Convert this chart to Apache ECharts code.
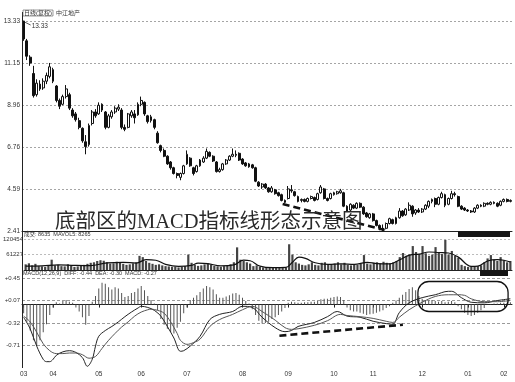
<!DOCTYPE html>
<html><head><meta charset="utf-8">
<script src="https://cdn.jsdelivr.net/npm/echarts@6/dist/echarts.min.js"></script>
<style>html,body{margin:0;padding:0;background:#fff}#c{width:515px;height:382px}</style>
</head><body><div id="c"></div>
<script>
// ---- tick labels ----
const monthLabels = ['03','04','05','06','07','08','09','10','11','12','01','02'];
const monthStart  = [0, 9, 23, 36, 50, 67, 81, 95, 107, 122, 136, 147];
const priceTicks = ['2.41','4.59','6.76','8.96','11.15','13.33'];
const volTicks = ['', '61227', '120454'];
const macdTicks = ['', '-0.71', '-0.32', '+0.07', '+0.45'];

// ---- daily candles [open, close, low, high] ----
const candles = [
[13.33,12.40,12.30,13.33],[12.30,11.50,11.30,12.40],[11.45,11.15,11.00,11.55],[10.60,9.45,9.35,11.00],[9.50,10.10,9.40,10.30],
[10.05,9.80,9.70,10.25],[9.85,10.20,9.75,10.35],[10.20,10.50,10.05,10.65],[10.45,10.95,10.35,11.15],[10.80,10.20,10.10,10.90],
[9.95,9.20,9.10,10.00],[9.20,8.90,8.75,9.30],[9.00,9.40,8.95,9.50],[9.40,9.80,9.30,10.00],[9.50,8.80,8.70,9.60],
[8.70,8.40,8.30,8.80],[8.50,8.20,8.10,8.60],[8.15,7.80,7.70,8.30],[7.75,7.10,7.00,7.80],[7.05,6.80,6.40,7.40],
[6.90,7.90,6.80,8.00],[8.00,8.60,7.90,8.70],[8.60,8.40,8.30,8.75],[8.50,8.95,8.45,9.10],[9.00,8.70,8.60,9.05],
[8.60,7.80,7.70,8.65],[7.80,8.40,7.75,8.50],[8.35,8.60,8.25,8.70],[8.60,8.80,8.50,8.90],[8.75,8.85,8.65,9.00],
[8.70,7.80,7.70,8.80],[7.80,7.70,7.60,7.95],[7.80,8.50,7.75,8.55],[8.40,8.60,8.30,8.70],[8.50,8.30,8.00,8.70],
[8.45,9.00,8.40,9.10],[9.00,9.20,8.90,9.40],[9.10,8.50,8.40,9.15],[8.40,8.10,8.00,8.45],[8.15,8.35,8.05,8.45],
[8.20,7.80,7.70,8.25],[7.50,7.00,6.95,7.60],[6.85,6.60,6.50,6.90],[6.60,6.30,6.25,6.70],[6.30,5.90,5.85,6.35],
[6.00,5.70,5.60,6.05],[5.70,5.40,5.35,5.75],[5.40,5.30,5.15,5.45],[5.20,5.40,5.05,5.45],[5.40,5.80,5.35,5.85],
[5.90,6.40,5.85,6.60],[6.20,5.80,5.75,6.25],[5.70,5.40,5.30,5.75],[5.50,5.80,5.45,5.85],[5.80,6.10,5.75,6.15],
[6.00,6.20,5.95,6.30],[6.20,6.55,6.15,6.70],[6.50,6.30,6.25,6.55],[6.30,6.05,6.00,6.35],[6.00,5.50,5.45,6.05],
[5.50,5.60,5.45,5.70],[5.60,5.90,5.55,5.95],[5.90,6.10,5.85,6.15],[6.10,6.30,6.05,6.35],[6.30,6.40,6.25,6.70],
[6.40,6.35,6.25,6.60],[6.45,6.10,6.05,6.50],[6.15,5.90,5.85,6.20],[5.95,5.80,5.75,6.00],[5.90,5.75,5.70,5.95],
[5.85,5.70,5.65,5.90],[5.70,5.00,4.95,5.75],[4.95,4.75,4.70,5.00],[4.70,4.85,4.60,4.90],[4.85,4.65,4.60,4.90],
[4.65,4.45,4.40,4.70],[4.45,4.65,4.40,4.75],[4.55,4.35,4.30,4.60],[4.40,4.25,4.20,4.45],[4.30,4.00,3.95,4.35],
[4.00,3.90,3.85,4.05],[4.10,4.60,4.05,4.75],[4.55,4.50,4.40,4.80],[4.45,4.25,4.20,4.50],[4.20,3.95,3.90,4.25],
[4.00,4.05,3.90,4.10],[4.05,3.95,3.90,4.10],[3.95,4.10,3.90,4.15],[4.10,4.20,4.05,4.25],[4.15,4.00,3.95,4.20],
[4.05,4.35,4.00,4.40],[4.40,4.70,4.35,4.80],[4.60,4.10,4.05,4.65],[4.10,4.00,3.95,4.15],[4.10,4.35,4.05,4.40],
[4.30,4.40,4.25,4.45],[4.35,4.45,4.30,4.50],[4.40,4.50,4.35,4.60],[4.40,3.70,3.65,4.45],[3.70,3.45,3.40,3.75],
[3.50,3.80,3.45,3.85],[3.75,3.60,3.55,3.80],[3.60,3.85,3.55,3.90],[3.85,3.65,3.60,3.90],[3.65,3.30,3.25,3.70],
[3.35,3.15,3.10,3.40],[3.10,3.30,3.05,3.35],[3.30,2.95,2.90,3.35],[2.95,2.70,2.65,3.00],[2.70,2.55,2.45,2.75],
[2.55,2.50,2.41,2.75],[2.55,2.80,2.50,2.85],[2.80,3.05,2.75,3.10],[3.00,2.80,2.75,3.05],[2.80,3.10,2.75,3.15],
[3.10,3.45,3.05,3.60],[3.45,3.20,3.15,3.50],[3.25,3.55,3.20,3.60],[3.50,3.75,3.45,3.90],[3.70,3.30,3.15,3.75],
[3.35,3.50,3.25,3.55],[3.50,3.40,3.35,3.60],[3.40,3.55,3.35,3.60],[3.55,3.75,3.50,3.80],[3.70,3.95,3.60,4.00],
[3.95,4.05,3.85,4.10],[4.10,3.80,3.65,4.15],[3.80,4.15,3.75,4.20],[4.15,4.35,4.10,4.45],[4.30,3.75,3.65,4.35],
[3.80,4.10,3.75,4.15],[4.10,4.35,4.05,4.50],[4.35,4.30,4.20,4.45],[4.20,3.70,3.65,4.25],[3.70,3.55,3.50,3.75],
[3.60,3.50,3.45,3.65],[3.50,3.45,3.40,3.55],[3.45,3.40,3.35,3.50],[3.40,3.60,3.35,3.65],[3.60,3.75,3.55,3.80],
[3.75,3.70,3.65,3.80],[3.70,3.85,3.65,3.90],[3.85,3.80,3.75,3.90],[3.80,3.90,3.75,3.95],[3.90,3.85,3.80,3.95],
[3.85,3.70,3.65,3.90],[3.75,3.95,3.70,4.00],[3.95,4.05,3.90,4.10],[4.05,3.95,3.90,4.10],[3.95,4.00,3.90,4.05]
];

// ---- volume (lots) ----
const volumes = [
22000,26000,18000,24000,15000,14000,12000,16000,40000,
18000,20000,15000,14000,22000,16000,12000,14000,18000,20000,24000,
28000,30000,35000,38000,36000,30000,25000,26000,32000,28000,24000,20000,22000,26000,30000,
55000,50000,35000,28000,24000,20000,
22000,18000,15000,14000,12000,13000,10000,12000,15000,
60000,
28000,20000,16000,18000,22000,25000,20000,16000,14000,12000,15000,18000,22000,
30000,88000,40000,35000,30000,25000,
15000,18000,12000,10000,8000,9000,10000,8000,9000,11000,10000,
100000,60000,
30000,25000,20000,18000,22000,30000,20000,18000,28000,30000,22000,20000,25000,30000,22000,28000,20000,18000,22000,20000,24000,
58000,
25000,22000,28000,30000,25000,32000,28000,26000,30000,35000,
50000,66000,55000,60000,93000,70000,62000,93000,65000,55000,60000,89000,70000,62000,117000,60000,74000,55000,48000,
20000,15000,12000,14000,12000,15000,18000,
30000,45000,58000,40000,35000,50000,38000,30000,35000
];
// MAVOL5 curve read at sample days [dayIndex, value]
const volMA = [[0,15000],[5,16000],[10,20000],[15,18000],[20,17000],[25,28000],[30,30000],[34,27000],[37,40000],[40,38000],
[43,22000],[47,14000],[51,18000],[53,27000],[56,25000],[60,16000],[64,20000],[67,38000],[69,36000],[72,15000],[76,9000],
[80,10000],[82,30000],[84,50000],[86,45000],[89,28000],[93,22000],[97,24000],[101,22000],[105,30000],[108,25000],[112,24000],
[115,40000],[118,58000],[121,62000],[124,70000],[127,68000],[130,66000],[133,50000],[137,14000],[139,15000],[142,35000],
[145,40000],[147,38000],[149,31000]];

// ---- MACD ----
const macdHist = [
-0.15,-0.30,-0.45,-0.62,-0.72,-0.62,-0.48,-0.34,-0.18,-0.05,
0.04,0.02,0.06,0.08,0.05,0.03,-0.05,-0.12,-0.22,-0.35,-0.20,
0.05,0.15,0.28,0.38,0.36,0.30,0.26,0.30,0.28,0.20,0.13,0.15,0.20,0.22,0.28,0.32,0.25,0.15,0.08,0.02,
-0.10,-0.25,-0.35,-0.42,-0.48,-0.50,-0.40,-0.30,-0.15,-0.05,
0.08,0.12,0.16,0.22,0.28,0.32,0.30,0.26,0.18,0.12,0.12,0.14,0.16,0.19,0.20,0.17,0.12,0.06,0.02,
-0.08,-0.18,-0.28,-0.33,-0.32,-0.30,-0.25,-0.22,-0.18,-0.12,-0.06,
0.03,0.05,0.04,0.03,0.03,0.04,0.04,0.05,0.05,0.06,0.09,0.10,0.10,0.12,0.13,0.14,0.13,0.08,
-0.05,-0.10,-0.12,-0.12,-0.14,-0.16,-0.18,-0.17,-0.16,-0.14,-0.12,-0.10,-0.06,-0.03,
0.03,0.07,0.12,0.17,0.22,0.27,0.30,0.25,0.15,0.10,
0.08,0.07,0.08,0.06,0.05,0.06,0.04,0.05,0.06,0.04,
-0.03,-0.08,-0.14,-0.18,-0.20,-0.18,-0.14,-0.10,-0.06,
0.00,0.01,0.02,0.02,0.03,0.03,0.03,0.04
];
const diffLine = [[0,-0.22],[2,-0.42],[4,-0.72],[6,-0.95],[7,-0.99],[8,-0.99],[9,-0.95],[10,-0.88],[12,-0.82],[14,-0.80],
[16,-0.83],[18,-0.92],[19.5,-1.07],[21,-0.95],[22,-0.72],[23,-0.55],[25,-0.45],[27,-0.38],[29,-0.30],[31,-0.21],[33,-0.13],
[35,-0.06],[36,-0.03],[38,-0.05],[40,-0.10],[42,-0.20],[44,-0.38],[46,-0.58],[48,-0.81],[49,-0.80],[51,-0.72],[54,-0.55],
[57,-0.26],[60,-0.17],[64,-0.12],[67,-0.03],[70,-0.05],[73,-0.22],[77,-0.40],[80,-0.47],[82,-0.45],[84,-0.38],[89,-0.31],
[93,-0.21],[96,-0.12],[99,-0.20],[103,-0.22],[107,-0.29],[111,-0.33],[113,-0.34],[115,-0.14],[118,0.03],[122,0.12],
[126,0.17],[130,0.23],[131,0.23],[134,0.12],[137,0.04],[141,0.03],[145,0.07],[149,0.10]];
const deaLine = [[0,-0.20],[2,-0.30],[4,-0.48],[6,-0.68],[8,-0.80],[10,-0.85],[12,-0.85],[14,-0.84],[16,-0.84],[18,-0.87],
[20,-0.93],[22,-0.90],[24,-0.76],[26,-0.62],[28,-0.50],[30,-0.39],[32,-0.30],[34,-0.20],[36,-0.13],[38,-0.09],[39,-0.08],
[41,-0.10],[43,-0.15],[45,-0.30],[47,-0.50],[48,-0.62],[50,-0.69],[52,-0.66],[54,-0.60],[57,-0.38],[60,-0.26],[64,-0.17],
[67,-0.09],[70,-0.03],[73,-0.12],[77,-0.27],[80,-0.40],[82,-0.43],[84,-0.42],[89,-0.36],[93,-0.28],[97,-0.17],[99,-0.19],
[103,-0.21],[107,-0.24],[111,-0.29],[113,-0.31],[115,-0.22],[118,-0.09],[122,0.04],[126,0.14],[130,0.17],[133,0.17],
[135,0.16],[137,0.10],[141,0.05],[145,0.05],[149,0.07]];

// ---- annotations (data coordinates) ----
const priceTrend = [[79.3, 3.81], [110.5, 2.46]];
const macdTrend = [[78.3, -0.54], [116.1, -0.35]];
const macdBox = [[120.7, 0.40], [148.3, -0.12]];
const peakMark = [0, 13.33];

const N = candles.length;
const cats = candles.map((c, i) => String(i));
const FONT = '"Liberation Sans", "Noto Sans CJK SC", sans-serif';
const TXT = '#333';

function tickFmt(labels, min, step) {
  return v => { const k = Math.round((v - min) / step); return Math.abs(v - (min + k * step)) < step * 0.01 ? (labels[k] || '') : ''; };
}
const showMonth = idx => monthStart.indexOf(idx) >= 0;

const gridBase = { left: 22, right: 3, containLabel: false };
const chart = echarts.init(document.getElementById('c'), null, { renderer: 'canvas' });

const catAxis = (gi, showLabels) => ({
  type: 'category', gridIndex: gi, data: cats, boundaryGap: true,
  axisLine: { show: true, lineStyle: { color: '#222', width: 1 } },
  axisTick: showLabels ? { show: true, interval: showMonth, alignWithLabel: true, length: 3, lineStyle: { color: '#222' } } : { show: false },
  axisLabel: showLabels ? { show: true, interval: showMonth, formatter: (v, i) => monthLabels[monthStart.indexOf(Number(v))] || '', fontSize: 6.5, color: TXT, margin: 3, fontFamily: FONT } : { show: false },
  splitLine: { show: false }
});
const valX = gi => ({ type: 'value', gridIndex: gi, min: -0.5, max: N - 0.5, show: false });

const option = {
  animation: false,
  backgroundColor: '#fff',
  grid: [
    Object.assign({ top: 12, height: 219 }, gridBase),
    Object.assign({ top: 239, height: 31 }, gridBase),
    Object.assign({ top: 274, height: 94 }, gridBase)
  ],
  xAxis: [catAxis(0, false), catAxis(1, false), catAxis(2, true), valX(0), valX(1), valX(2)],
  yAxis: [
    { type: 'value', gridIndex: 0, min: 2.41, max: 13.80, interval: 2.184, scale: true,
      axisLine: { show: false }, axisTick: { show: false },
      axisLabel: { formatter: tickFmt(priceTicks, 2.41, 2.184), fontSize: 6.5, color: TXT, margin: 2, fontFamily: FONT, showMaxLabel: false },
      splitLine: { show: true, showMaxLine: false, showMinLine: false, lineStyle: { color: '#a5a5a5', type: [2, 2], width: 1 } } },
    { type: 'value', gridIndex: 1, min: 0, max: 120454, interval: 60227,
      axisLine: { show: false }, axisTick: { show: false },
      axisLabel: { formatter: tickFmt(volTicks, 0, 60227), fontSize: 6, color: TXT, margin: 1, fontFamily: FONT },
      splitLine: { show: true, showMinLine: false, lineStyle: { color: '#bbb', type: [2, 2], width: 1 } } },
    { type: 'value', gridIndex: 2, min: -1.10, max: 0.53, interval: 0.39,
      axisLine: { show: false }, axisTick: { show: false },
      axisLabel: { formatter: tickFmt(macdTicks, -1.10, 0.39), fontSize: 6, color: TXT, margin: 2, fontFamily: FONT, showMaxLabel: false },
      splitLine: { show: true, showMinLine: false, showMaxLine: false, lineStyle: { color: '#9a9a9a', type: [3, 2], width: 1 } } }
  ],
  series: [
    { type: 'candlestick', xAxisIndex: 0, yAxisIndex: 0, data: candles.map(c => [c[0], c[1], c[2], c[3]]),
      barWidth: 2.4,
      itemStyle: { color: '#fff', color0: '#111', borderColor: '#111', borderColor0: '#111', borderWidth: 1 } },
    { type: 'line', xAxisIndex: 3, yAxisIndex: 0, data: priceTrend, symbol: 'none', z: 6,
      lineStyle: { color: '#111', width: 2.6, type: [7, 4] } },
    { type: 'bar', xAxisIndex: 1, yAxisIndex: 1, data: volumes, barWidth: 2.2,
      itemStyle: { color: '#444' } },
    { type: 'line', xAxisIndex: 4, yAxisIndex: 1, data: volMA, symbol: 'none', smooth: 0.4, z: 5,
      lineStyle: { color: '#111', width: 1.2 } },
    { type: 'bar', xAxisIndex: 2, yAxisIndex: 2, data: macdHist, barWidth: 1,
      itemStyle: { color: '#555' } },
    { type: 'line', xAxisIndex: 5, yAxisIndex: 2, data: diffLine, symbol: 'none', smooth: 0.35, z: 5,
      lineStyle: { color: '#222', width: 1 } },
    { type: 'line', xAxisIndex: 5, yAxisIndex: 2, data: deaLine, symbol: 'none', smooth: 0.35, z: 5,
      lineStyle: { color: '#555', width: 1 } },
    { type: 'line', xAxisIndex: 5, yAxisIndex: 2, data: macdTrend, symbol: 'none', z: 6,
      lineStyle: { color: '#111', width: 2.6, type: [7, 4] } }
  ]
};
chart.setOption(option);

const px = (gi, pt) => chart.convertToPixel({ xAxisIndex: 3 + gi, yAxisIndex: gi }, pt);
const b0 = px(2, macdBox[0]), b1 = px(2, macdBox[1]);
const pk = px(0, peakMark);
const g0 = chart.getModel().getComponent('grid', 0).coordinateSystem.getRect();
const g2 = chart.getModel().getComponent('grid', 2).coordinateSystem.getRect();

chart.setOption({
  graphic: [
    { type: 'line', shape: { x1: g0.x + 0.5, y1: g0.y, x2: g0.x + 0.5, y2: g2.y + g2.height }, style: { stroke: '#222', lineWidth: 1 }, z: 10 },
    { type: 'text', x: 23, y: 10, style: { text: '日线(复权)', fontSize: 6, fontFamily: FONT, fill: TXT, borderColor: '#555', borderWidth: 0.6, padding: [0, 1] }, z: 10 },
    { type: 'text', x: 56, y: 10, style: { text: '中江地产', fontSize: 6, fontFamily: FONT, fill: TXT }, z: 10 },
    { type: 'line', shape: { x1: pk[0] + 1, y1: pk[1] + 1, x2: pk[0] + 7, y2: pk[1] + 4 }, style: { stroke: '#333', lineWidth: 0.8 }, z: 10 },
    { type: 'text', x: pk[0] + 8, y: pk[1] + 1.5, style: { text: '13.33', fontSize: 6.5, fontFamily: FONT, fill: TXT }, z: 10 },
    { type: 'text', x: 24, y: 232, style: { text: '成交: 8635  MAVOL5: 8265', fontSize: 5.5, fontFamily: FONT, fill: TXT }, z: 10 },
    { type: 'text', x: 23, y: 271, style: { text: 'MACD(12,26,9)  DIFF: -0.44  DEA: -0.30  MACD: -0.27', fontSize: 5.5, fontFamily: FONT, fill: TXT }, z: 10 },
    { type: 'rect', shape: { x: 458, y: 231, width: 52, height: 6 }, style: { fill: '#151515' }, z: 10 },
    { type: 'rect', shape: { x: 480, y: 270, width: 28, height: 6 }, style: { fill: '#151515' }, z: 10 },
    { type: 'rect', shape: { x: b0[0], y: b0[1], width: b1[0] - b0[0], height: b1[1] - b0[1], r: 11 }, style: { fill: null, stroke: '#111', lineWidth: 1.3 }, z: 10 },
    { type: 'text', x: 55, y: 212, style: { text: '底部区的MACD指标线形态示意图', fontSize: 20.5, fontFamily: '"Liberation Serif", "Noto Sans CJK SC", serif', fill: '#2a2a2a' }, z: 20 }
  ]
});
</script></body></html>
